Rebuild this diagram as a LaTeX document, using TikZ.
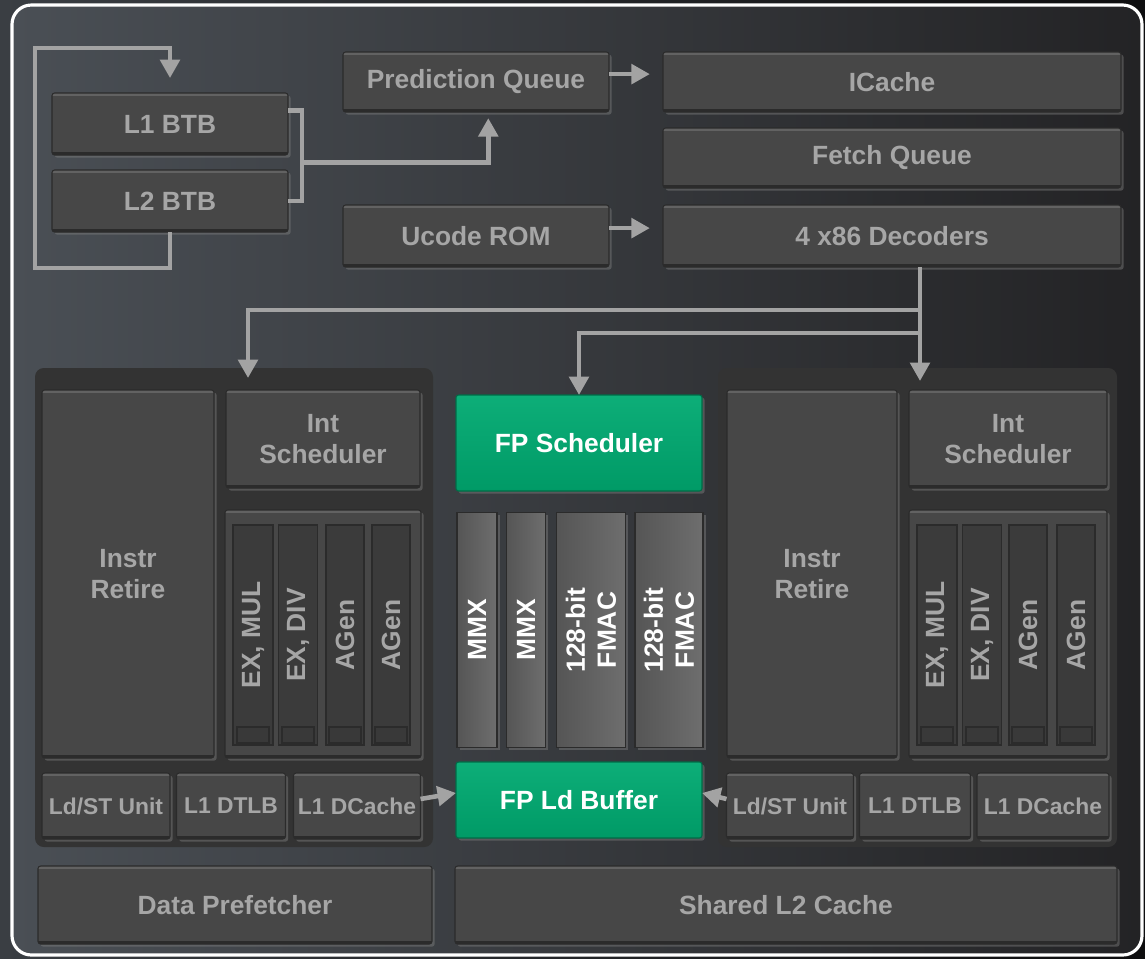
\documentclass[tikz,border=0pt]{standalone}
\usepackage{fontspec}
\setmainfont{Liberation Sans}
\usepackage{xcolor}
\usetikzlibrary{arrows.meta, calc, shadows}

\definecolor{outerL}{HTML}{3A3E43}
\definecolor{outerR}{HTML}{0E0E0F}
\definecolor{panelL}{HTML}{4A4F55}
\definecolor{panelR}{HTML}{232325}
\definecolor{blkfill}{HTML}{474747}
\definecolor{blkhi}{HTML}{626262}
\definecolor{blklo}{HTML}{2B2B2B}
\definecolor{txtgray}{HTML}{A6A6A6}
\definecolor{arrgray}{HTML}{A3A3A3}
\definecolor{grnlo}{HTML}{009A66}
\definecolor{grnhi}{HTML}{0DAE78}
\definecolor{clustbg}{HTML}{333333}
\definecolor{colfill}{HTML}{3B3B3B}
\definecolor{mmxhi}{HTML}{6E6E6E}
\definecolor{mmxlo}{HTML}{555555}

\begin{document}
\begin{tikzpicture}[x=0.02cm, y=-0.02cm,
	wh/.style 2 args={minimum width=#1*0.02cm, minimum height=#2*0.02cm},
	blk/.style={rectangle, rounded corners=1.5pt, fill=blkfill, draw=blklo, line width=0.6pt,
		inner sep=0pt, outer sep=0pt, text=txtgray, align=center,
		font=\fontsize{15}{17.6}\selectfont\bfseries,
		drop shadow={shadow xshift=1.5pt, shadow yshift=-1.5pt, opacity=0.45},
		path picture={
			\draw[blkhi, line width=3pt] (path picture bounding box.north west) -- (path picture bounding box.north east);
			\draw[blklo, line width=3pt] (path picture bounding box.south west) -- (path picture bounding box.south east);
		}},
	lsfont/.style={font=\fontsize{13}{15}\selectfont\bfseries},
	grn/.style={blk, draw=grnlo!70!black, top color=grnhi, bottom color=grnlo, text=white,
		path picture={}},
	col/.style={rectangle, rotate=90, fill=colfill, draw=blklo, line width=1pt,
		inner sep=0pt, outer sep=0pt, text=txtgray, align=center,
		font=\fontsize{15}{17.6}\selectfont\bfseries},
	mmx/.style={col, left color=mmxlo, right color=mmxhi, draw=blklo, text=white,
		drop shadow={shadow xshift=1.5pt, shadow yshift=-1.5pt, opacity=0.45}},
	line/.style={draw=arrgray, line width=2.6pt},
	arr/.style={line, -{Triangle[width=11pt, length=10.5pt]}}
	]

	\useasboundingbox (0,0) rectangle (1145,958);
	\shade[left color=outerL, right color=outerR] (0,0) rectangle (1145,958);
	\shade[left color=panelL, right color=panelR, rounded corners=11pt] (12,5) rectangle (1142,955);
	\draw[white, line width=1.8pt, rounded corners=11pt] (12,5) rectangle (1142,955);

	% front end
	\node[blk, wh={236}{62}] (l1btb) at (170,124) {L1 BTB};
	\node[blk, wh={236}{62}] (l2btb) at (170,201) {L2 BTB};
	\node[blk, wh={266}{60}] (pq) at (476,82) {Prediction Queue};
	\node[blk, wh={266}{62}] (ucode) at (476,236) {Ucode ROM};
	\node[blk, wh={458}{60}] (icache) at (892,82) {ICache};
	\node[blk, wh={458}{60}] (fetchq) at (892,158) {Fetch Queue};
	\node[blk, wh={458}{62}] (dec) at (892,236) {4 x86 Decoders};

	% integer clusters
	\fill[clustbg, rounded corners=5pt] (35,368) rectangle (433,847);
	\fill[clustbg, rounded corners=5pt] (718,368) rectangle (1117,847);

	\node[blk, wh={172}{368}] (lret) at (128,574) {Instr\\Retire};
	\node[blk, wh={194}{98}] (lsch) at (323,439) {Int\\Scheduler};
	\node[blk, wh={196}{248}] (lexg) at (323,634) {};
	\node[col, wh={220}{40}] (lc1) at (253,635) {EX, MUL};
	\node[col, wh={220}{39}] (lc2) at (298,635) {EX, DIV};
	\node[col, wh={220}{38}] (lc3) at (345,635) {AGen};
	\node[col, wh={220}{38}] (lc4) at (391,635) {AGen};
	\node[blk, lsfont, wh={128}{66}] (lldst) at (106,806) {Ld/ST Unit};
	\node[blk, lsfont, wh={109}{66}] (ldtlb) at (231,806) {L1 DTLB};
	\node[blk, lsfont, wh={127}{66}] (ldcache) at (357,806) {L1 DCache};

	\node[blk, wh={170}{368}] (rret) at (812,574) {Instr\\Retire};
	\node[blk, wh={198}{98}] (rsch) at (1008,439) {Int\\Scheduler};
	\node[blk, wh={198}{248}] (rexg) at (1008,634) {};
	\node[col, wh={220}{40}] (rc1) at (937,635) {EX, MUL};
	\node[col, wh={220}{39}] (rc2) at (982,635) {EX, DIV};
	\node[col, wh={220}{38}] (rc3) at (1028,635) {AGen};
	\node[col, wh={220}{38}] (rc4) at (1076,635) {AGen};
	\node[blk, lsfont, wh={127}{66}] (rldst) at (790,806) {Ld/ST Unit};
	\node[blk, lsfont, wh={111}{66}] (rdtlb) at (915,806) {L1 DTLB};
	\node[blk, lsfont, wh={132}{66}] (rdcache) at (1043,806) {L1 DCache};

	\foreach \x in {253,298,345,391,937,982,1028,1076}
		\draw[blklo, fill=blkfill!80!black, line width=0.8pt] (\x-16,727) rectangle (\x+16,743);

	% fp unit
	\node[grn, wh={246}{96}] (fpsch) at (579,443) {FP Scheduler};
	\node[mmx, wh={235}{40}] (mmx1) at (477,630) {MMX};
	\node[mmx, wh={235}{39}] (mmx2) at (526,630) {MMX};
	\node[mmx, wh={235}{69}] (fmac1) at (591,630) {128-bit\\FMAC};
	\node[mmx, wh={235}{68}] (fmac2) at (669,630) {128-bit\\FMAC};
	\node[grn, wh={246}{76}] (fpld) at (579,800) {FP Ld Buffer};

	% shared
	\node[blk, wh={394}{78}] (dpf) at (235,905) {Data Prefetcher};
	\node[blk, wh={662}{78}] (l2) at (786,905) {Shared L2 Cache};

	% connectors
	\coordinate (lin) at (248,378);
	\coordinate (rin) at (920,381);
	\draw[arr] (l2btb.south) -- ++(0,36) -| (35,48) -| ([yshift=8.5pt]l1btb.north);
	\draw[line] ($(l1btb.north east)!0.28!(l1btb.south east)$) -- ++(14,0)
		|- (l2btb.east);
	\draw[arr] ($(l1btb.east)!0.5!(l2btb.east)+(14,0)$) -| ([xshift=7pt,yshift=-3.5pt]pq.south);
	\draw[arr] ([yshift=4.5pt]pq.east) -- ([xshift=-7.5pt,yshift=4.5pt]icache.west);
	\draw[arr] ([yshift=4.5pt]ucode.east) -- ([xshift=-7.5pt,yshift=4.5pt]dec.west);
	\draw[arr] (rin |- dec.south) -- ++(0,43) -| (lin);
	\draw[arr] (rin |- dec.south) -- ++(0,66) -| (fpsch.north);
	\draw[arr] (rin |- dec.south) -- (rin);
	\draw[arr] ([yshift=4pt]ldcache.east) -- ([yshift=4pt]fpld.west);
	\draw[arr] ([yshift=4pt]rldst.west) -- ([yshift=4pt]fpld.east);

\end{tikzpicture}
\end{document}
